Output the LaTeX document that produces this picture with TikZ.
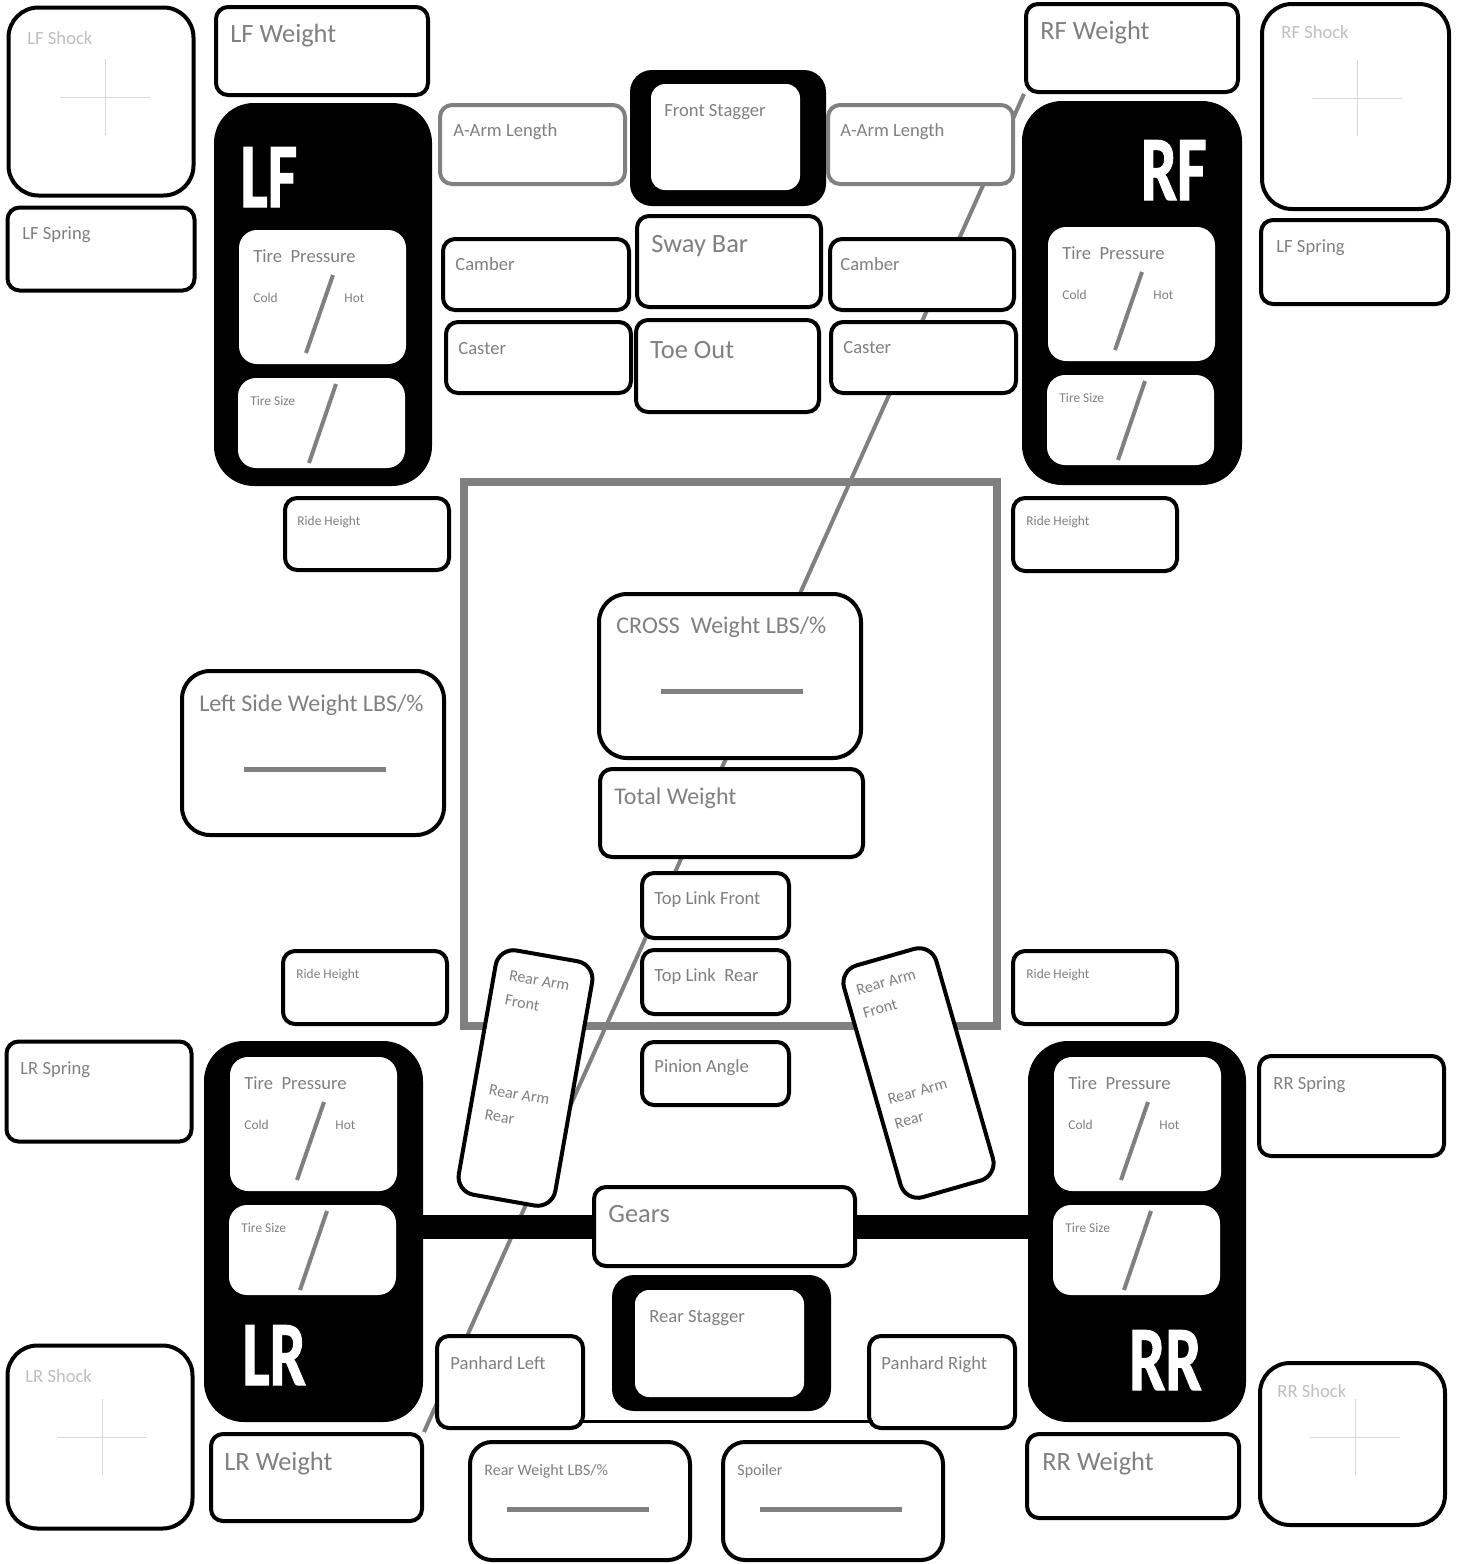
\documentclass[tikz,border=0pt]{standalone}
\usepackage{fontspec}
\setmainfont{Carlito}
\newfontfamily\wheelfont{Carlito}[BoldFeatures={FakeBold=1.5}]
\usetikzlibrary{backgrounds}
\definecolor{txtgray}{HTML}{808080}
\definecolor{shockgray}{HTML}{BFBFBF}
\definecolor{crossgray}{HTML}{D9D9D9}
\definecolor{linegray}{HTML}{808080}

\begin{document}
\begin{tikzpicture}[x=0.5pt, y=-0.5pt,
    box/.style={draw, line width=2pt, fill=white, rounded corners=6pt, inner sep=0pt},
    greybox/.style={box, draw=linegray},
    bigbox/.style={box, rounded corners=14pt},
    shockbox/.style={box, rounded corners=15pt},
    armbox/.style={box, rounded corners=9pt},
    wheel/.style={fill=black, rounded corners=20pt, inner sep=0pt},
    pane/.style={fill=white, rounded corners=9pt, inner sep=0pt},
    stagger/.style={fill=black, rounded corners=11pt, inner sep=0pt},
    lbl/.style={text=txtgray, inner sep=0pt, anchor=mid west},
    bigtxt/.style={lbl, font=\fontsize{13.2}{15}\selectfont},
    hdtxt/.style={lbl, font=\fontsize{12}{14}\selectfont},
    medtxt/.style={lbl, font=\fontsize{9.3}{11}\selectfont},
    smltxt/.style={lbl, font=\fontsize{8}{10}\selectfont},
    tinytxt/.style={lbl, font=\fontsize{6.7}{8}\selectfont},
    shocktxt/.style={medtxt, text=shockgray},
    wheelname/.style={text=white, inner sep=0pt, font=\wheelfont\bfseries\fontsize{46}{46}\selectfont},
    gauge/.style={draw=linegray, line width=2pt},
    blankline/.style={draw=linegray, line width=2.5pt},
    hair/.style={draw=crossgray, line width=0.5pt},
    chassis/.style={draw=linegray, line width=4pt},
    link/.style={draw=linegray, line width=2pt},
    axle/.style={line width=12pt}
]
\useasboundingbox (0,0) rectangle (1461,1564);

% left front corner
\node[shockbox, minimum width=92.5pt, minimum height=94pt] (lfshock) at (101,101.5) {};
\node[shocktxt] (lfshock-t) at (27,40) {LF Shock};
\node[box, minimum width=93.5pt, minimum height=41.5pt] (lfspring) at (101,249) {};
\node[medtxt] (lfspring-t) at (22,235) {LF Spring};
\node[box, minimum width=106pt, minimum height=44pt] (lfw) at (322,51) {};
\node[bigtxt] (lfw-t) at (230,38) {LF Weight};
\node[wheel, minimum width=109pt, minimum height=191.5pt] (lfwheel) at (323,294.5) {};
\node[wheelname, anchor=base west] (lfwheel-t) at (240,207) {\scalebox{0.7}[1]{LF}};
\node[box, minimum width=82pt, minimum height=36pt] (lfrh) at (367,534) {};
\node[tinytxt] (lfrh-t) at (297,521) {Ride Height};

% front centre
\node[greybox, minimum width=92.5pt, minimum height=39.5pt] (laarm) at (532.5,144.5) {};
\node[medtxt] (laarm-t) at (453,132) {A-Arm Length};
\node[stagger, minimum width=98pt, minimum height=68pt] (fstag) at (728,138) {};
\node[pane, rounded corners=7pt, minimum width=74.5pt, minimum height=53pt] (fstag-in) at (725.5,137) {};
\node[medtxt] (fstag-t) at (664,112) {Front Stagger};
\node[greybox, minimum width=92.5pt, minimum height=39.5pt] (raarm) at (920.5,144.5) {};
\node[medtxt] (raarm-t) at (840,132) {A-Arm Length};
\node[box, minimum width=93pt, minimum height=35.5pt] (lcamber) at (536,274.5) {};
\node[medtxt] (lcamber-t) at (455,266) {Camber};
\node[box, minimum width=92pt, minimum height=45.5pt] (sway) at (729,261.5) {};
\node[bigtxt] (sway-t) at (651,248) {Sway Bar};
\node[box, minimum width=92pt, minimum height=35.5pt] (rcamber) at (922,274.5) {};
\node[medtxt] (rcamber-t) at (840,266) {Camber};
\node[box, minimum width=92.5pt, minimum height=35.5pt] (lcaster) at (538.5,357.5) {};
\node[medtxt] (lcaster-t) at (458,350) {Caster};
\node[box, minimum width=91.5pt, minimum height=46pt] (toe) at (727.5,366) {};
\node[bigtxt] (toe-t) at (650,354) {Toe Out};
\node[box, minimum width=92.5pt, minimum height=35.5pt] (rcaster) at (923.5,357.5) {};
\node[medtxt] (rcaster-t) at (843,349) {Caster};

% right front corner
\node[box, minimum width=106pt, minimum height=44pt] (rfw) at (1132,48) {};
\node[bigtxt] (rfw-t) at (1040,35) {RF Weight};
\node[wheel, minimum width=110pt, minimum height=192pt] (rfwheel) at (1132,293) {};
\node[wheelname, anchor=base east] (rfwheel-t) at (1207,200) {\scalebox{0.7}[1]{RF}};
\node[shockbox, minimum width=93.5pt, minimum height=102.5pt] (rfshock) at (1355.5,106.5) {};
\node[shocktxt] (rfshock-t) at (1281,34) {RF Shock};
\node[box, minimum width=93.5pt, minimum height=42pt] (rfspring) at (1354.5,262) {};
\node[medtxt] (rfspring-t) at (1276,248) {LF Spring};
\node[box, minimum width=82pt, minimum height=36.5pt] (rfrh) at (1095,534.5) {};
\node[tinytxt] (rfrh-t) at (1026,521) {Ride Height};

% centre
\node[bigbox, minimum width=131pt, minimum height=82pt] (cross) at (730,676) {};
\node[hdtxt] (cross-t) at (616,629) {CROSS\ \ Weight LBS/\%};
\node[bigbox, minimum width=131pt, minimum height=82pt] (lside) at (313,753) {};
\node[hdtxt] (lside-t) at (199,707) {Left Side Weight LBS/\%};
\node[box, minimum width=131.5pt, minimum height=44pt] (total) at (731.5,813) {};
\node[hdtxt] (total-t) at (614,800) {Total Weight};
\node[box, minimum width=73.5pt, minimum height=32.5pt] (tlf) at (715.5,905.5) {};
\node[medtxt] (tlf-t) at (654,900) {Top Link Front};
\node[box, minimum width=73.5pt, minimum height=32pt] (tlr) at (715.5,982) {};
\node[medtxt] (tlr-t) at (654,977) {Top Link\ \ Rear};
\node[box, minimum width=73.5pt, minimum height=31.5pt] (pinion) at (715.5,1073.5) {};
\node[medtxt] (pinion-t) at (654,1068) {Pinion Angle};
\node[box, minimum width=82pt, minimum height=36.5pt] (lrrh) at (365,987.5) {};
\node[tinytxt] (lrrh-t) at (296,974) {Ride Height};
\node[box, minimum width=82pt, minimum height=36.5pt] (rrrh) at (1095,987.5) {};
\node[tinytxt] (rrrh-t) at (1026,974) {Ride Height};

% rear arms
\begin{scope}[shift={(525.5,1078)}, rotate=-10, transform shape]
  \node[armbox, minimum width=49pt, minimum height=124pt] (larm) at (0,0) {};
  \node[smltxt] (larm-f1) at (-34,-98) {Rear Arm};
  \node[smltxt] (larm-f2) at (-34,-73) {Front};
  \node[smltxt] (larm-r1) at (-34,18) {Rear Arm};
  \node[smltxt] (larm-r2) at (-34,43) {Rear};
\end{scope}
\begin{scope}[shift={(918.5,1073)}, rotate=16, transform shape]
  \node[armbox, minimum width=48pt, minimum height=120.5pt] (rarm) at (0,0) {};
  \node[smltxt] (rarm-f1) at (-37,-96) {Rear Arm};
  \node[smltxt] (rarm-f2) at (-37,-72) {Front};
  \node[smltxt] (rarm-r1) at (-37,18) {Rear Arm};
  \node[smltxt] (rarm-r2) at (-37,43) {Rear};
\end{scope}

% left rear corner
\node[box, minimum width=92.5pt, minimum height=50pt] (lrspring) at (99,1091.5) {};
\node[medtxt] (lrspring-t) at (20,1070) {LR Spring};
\node[wheel, minimum width=109.5pt, minimum height=190.5pt] (lrwheel) at (313.5,1231.5) {};
\node[wheelname, anchor=base west] (lrwheel-t) at (242,1385) {\scalebox{0.7}[1]{LR}};
\node[shockbox, minimum width=92.5pt, minimum height=91.5pt] (lrshock) at (100,1437) {};
\node[shocktxt] (lrshock-t) at (25,1378) {LR Shock};
\node[box, minimum width=105.5pt, minimum height=43.5pt] (lrw) at (316.5,1477.5) {};
\node[bigtxt] (lrw-t) at (224,1466) {LR Weight};

% rear centre
\node[box, minimum width=130.5pt, minimum height=39.5pt] (gears) at (724.5,1226.5) {};
\node[bigtxt] (gears-t) at (608,1218) {Gears};
\node[box, minimum width=73pt, minimum height=46pt] (pl) at (510,1382) {};
\node[medtxt] (pl-t) at (450,1365) {Panhard Left};
\node[stagger, minimum width=109.5pt, minimum height=68pt] (rstag) at (721.5,1343) {};
\node[pane, rounded corners=7pt, minimum width=84.5pt, minimum height=53.5pt] (rstag-in) at (719.5,1343.5) {};
\node[medtxt] (rstag-t) at (649,1318) {Rear Stagger};
\node[box, minimum width=73pt, minimum height=46pt] (pr) at (942,1382) {};
\node[medtxt] (pr-t) at (881,1365) {Panhard Right};
\node[box, rounded corners=11pt, minimum width=110pt, minimum height=59pt] (rearw) at (580,1501) {};
\node[smltxt] (rearw-t) at (484,1471) {Rear Weight LBS/\%};
\node[box, rounded corners=11pt, minimum width=110pt, minimum height=59pt] (spoiler) at (833,1501) {};
\node[smltxt] (spoiler-t) at (737,1471) {Spoiler};

% right rear corner
\node[wheel, minimum width=109pt, minimum height=190.5pt] (rrwheel) at (1137,1231.5) {};
\node[wheelname, anchor=base east] (rrwheel-t) at (1202,1390) {\scalebox{0.7}[1]{RR}};
\node[box, minimum width=92.5pt, minimum height=50pt] (rrspring) at (1351.5,1106) {};
\node[medtxt] (rrspring-t) at (1273,1085) {RR Spring};
\node[shockbox, minimum width=92.5pt, minimum height=81pt] (rrshock) at (1352.5,1444) {};
\node[shocktxt] (rrshock-t) at (1277,1393) {RR Shock};
\node[box, minimum width=106pt, minimum height=42pt] (rrw) at (1133,1476) {};
\node[bigtxt] (rrw-t) at (1042,1466) {RR Weight};

% tyre panes
\foreach \w/\ox/\oy in {lf/239/230, rf/1048/227, lr/230/1057, rr/1054/1057} {
  \begin{scope}[shift={(\ox,\oy)}]
    \node[pane, minimum width=83.5pt, minimum height=67pt] (\w-prs) at (83.5,67) {};
    \node[medtxt] (\w-prs-t) at (14,28) {Tire\ \ Pressure};
    \node[tinytxt] (\w-cold) at (14,68) {Cold};
    \node[tinytxt] (\w-hot) at (105,68) {Hot};
    \draw[gauge] (94,45) -- (67,123);
    \node[pane, minimum width=83.5pt, minimum height=45pt] (\w-size) at (82.5,193) {};
    \node[tinytxt] (\w-size-t) at (11,171) {Tire Size};
    \draw[gauge] (97,154) -- (70,233);
  \end{scope}
}

% shock crosshairs and blank value lines
\foreach \cx/\cy in {105/97, 1357/98, 102/1437, 1355/1437}
  \draw[hair] (\cx-45,\cy) -- (\cx+45,\cy) (\cx,\cy-38) -- (\cx,\cy+38);
\foreach \ax/\ay in {661/691, 244/769, 507/1509, 760/1509}
  \draw[blankline] (\ax,\ay) -- (\ax+142,\ay);

% axle and panhard bar
\draw[axle] (lrwheel.east |- gears.west) -- (gears.west);
\draw[axle] (gears.east) -- (rrwheel.west |- gears.east);
\draw[line width=1.5pt] ([xshift=-3pt,yshift=4.5pt]pl.south east) -- ([xshift=3pt,yshift=4.5pt]pr.south west);

% chassis frame and cross-weight line behind the boxes
\begin{scope}[on background layer]
  \draw[chassis] (464,482) rectangle (997,1026);
  \draw[link] (rfw.south west) -- (lrw.north east);
\end{scope}
\end{tikzpicture}
\end{document}
